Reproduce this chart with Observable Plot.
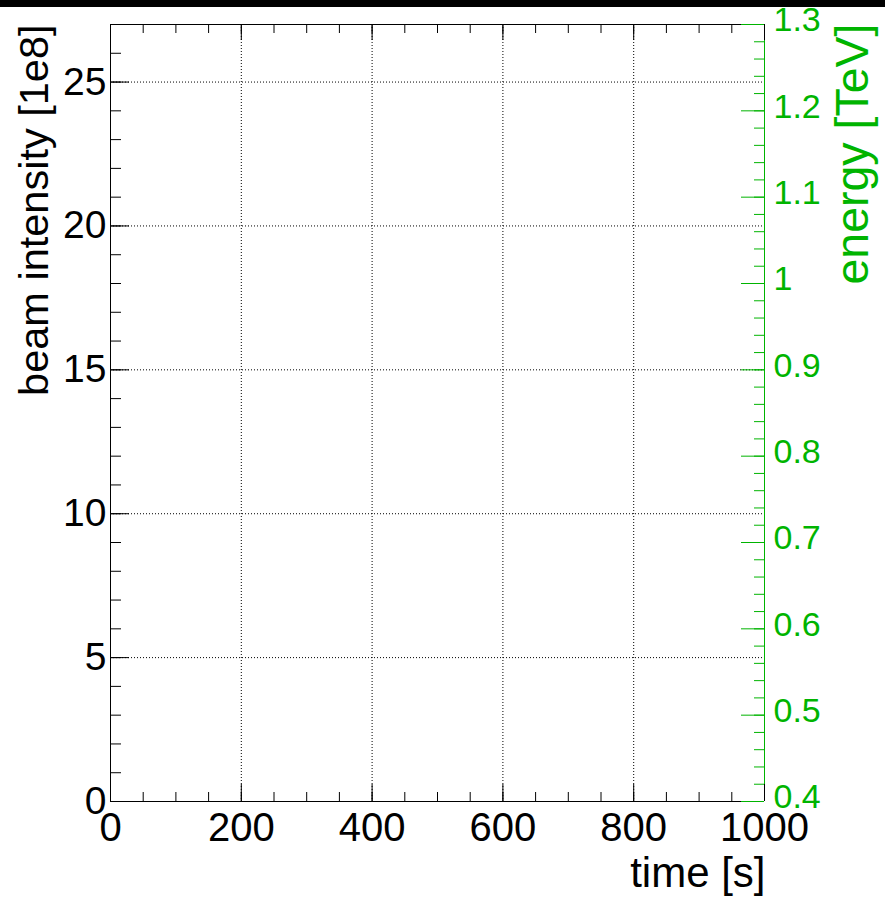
<!DOCTYPE html>
<html><head><meta charset="utf-8">
<script src="https://cdn.jsdelivr.net/npm/d3@7"></script>
<script src="https://cdn.jsdelivr.net/npm/@observablehq/plot@0.6"></script>
<style>
body{margin:0;background:#fff;}
#wrap{position:relative;width:885px;height:907px;}
#band{position:absolute;left:0;top:0;width:885px;height:7px;background:#000;z-index:2;}
</style></head><body>
<div id="wrap"><div id="band"></div><div id="chart"></div></div>
<script>
// axis ticks and titles (the chart has no data series)
const timeTicks = [0, 200, 400, 600, 800, 1000];
const timeMinorTicks = d3.range(0, 1001, 50);
const intensityTicks = [0, 5, 10, 15, 20, 25];
const intensityMinorTicks = d3.range(0, 27, 1);
const energyTicks = [0.4, 0.5, 0.6, 0.7, 0.8, 0.9, 1, 1.1, 1.2, 1.3];
const energyMinorTicks = d3.range(20, 66, 1).map(d => d / 50);
const timeDomain = [0, 1000];
const intensityDomain = [0, 27];
const energyDomain = [0.4, 1.3];
const xTitle = "time [s]";
const yTitle = "beam intensity [1e8]";
const y2Title = "energy [TeV]";

const green = "#00b400";
const W = 885, H = 907, ML = 110, MR = 121, MT = 24, MB = 106;
const FW = W - ML - MR, FH = H - MT - MB;
const e2y = e => (e - energyDomain[0]) / (energyDomain[1] - energyDomain[0]) * (intensityDomain[1] - intensityDomain[0]) + intensityDomain[0];

const chart = Plot.plot({
  width: W, height: H,
  marginLeft: ML, marginRight: MR, marginTop: MT, marginBottom: MB,
  style: {fontFamily: "Liberation Sans, Arial, sans-serif", background: "white", color: "black"},
  x: {domain: timeDomain, axis: null},
  y: {domain: intensityDomain, axis: null},
  marks: [
    // grid
    Plot.ruleX(timeTicks.slice(1, -1), {x: d => d, stroke: "black", strokeWidth: 1, strokeDasharray: "1,2"}),
    Plot.ruleY(intensityTicks.slice(1), {y: d => d, stroke: "black", strokeWidth: 1, strokeDasharray: "1,2"}),
    // frame
    Plot.ruleX([timeDomain[0]], {x: d => d, stroke: "black"}),
    Plot.ruleY([intensityDomain[0]], {y: d => d, stroke: "black"}),
    Plot.ruleY([intensityDomain[1]], {y: d => d, stroke: "black"}),
    Plot.ruleX([timeDomain[1]], {x: d => d, stroke: green}),
    // bottom ticks
    Plot.tickX(timeMinorTicks, {x: d => d, stroke: "black", insetTop: FH - 9}),
    Plot.tickX(timeTicks, {x: d => d, stroke: "black", insetTop: FH - 17}),
    // top ticks
    Plot.tickX(timeMinorTicks, {x: d => d, stroke: "black", insetBottom: FH - 9}),
    Plot.tickX(timeTicks, {x: d => d, stroke: "black", insetBottom: FH - 16}),
    // left ticks
    Plot.tickY(intensityMinorTicks, {y: d => d, stroke: "black", insetRight: FW - 11}),
    Plot.tickY(intensityTicks, {y: d => d, stroke: "black", insetRight: FW - 19}),
    // right (energy) ticks
    Plot.tickY(energyMinorTicks, {y: e2y, stroke: green, insetLeft: FW - 10}),
    Plot.tickY(energyTicks, {y: e2y, stroke: green, insetLeft: FW - 23}),
    // tick labels
    Plot.text(intensityTicks, {y: d => d, text: d => String(d), frameAnchor: "left", textAnchor: "end", dx: -4, fontSize: 39}),
    Plot.text(timeTicks, {x: d => d, text: d => String(d), frameAnchor: "bottom", lineAnchor: "top", dy: 11, fontSize: 40}),
    Plot.text(energyTicks, {y: e2y, text: d => String(d), frameAnchor: "right", textAnchor: "start", dx: 9, dy: -4, fontSize: 34, fill: green}),
    // titles
    Plot.text([yTitle], {text: d => d, frameAnchor: "top-left", rotate: -90, textAnchor: "end", lineAnchor: "bottom", dx: -63, dy: 0, fontSize: 41.5}),
    Plot.text([y2Title], {text: d => d, frameAnchor: "top-right", rotate: -90, textAnchor: "end", lineAnchor: "bottom", dx: 103, dy: -1, fontSize: 46.5, fill: green}),
    Plot.text([xTitle], {text: d => d, frameAnchor: "bottom-right", textAnchor: "end", lineAnchor: "bottom", dx: 1, dy: 85, fontSize: 42})
  ]
});
document.getElementById("chart").appendChild(chart);
</script>
</body></html>
